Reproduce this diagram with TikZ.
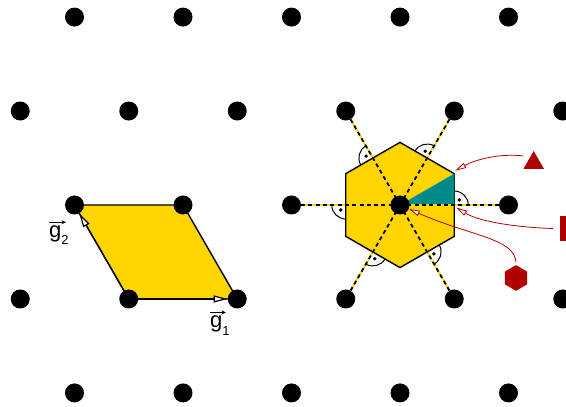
\documentclass[tikz,border=0pt]{standalone}
\usepackage{fontspec}
\setmainfont{Liberation Sans}
\usetikzlibrary{shapes.geometric,arrows.meta}
\pgfdeclarelayer{bg}
\pgfsetlayers{bg,main}
\definecolor{cellgold}{RGB}{255,213,0}
\definecolor{wedgeteal}{RGB}{0,139,139}
\definecolor{calloutred}{RGB}{178,0,0}
\newcommand{\gsub}[1]{g\raisebox{-0.32em}{\fontsize{13}{13}\selectfont#1}}
\begin{document}
\begin{tikzpicture}[x=1pt,y=1pt,
  dot/.style={circle,fill=black,inner sep=0pt,minimum size=19pt},
  cellfill/.style={fill=cellgold,draw=black,line width=1.4pt,line join=round},
  garrow/.style={draw=black,line width=1.2pt,-{Triangle[length=14pt,width=7pt,fill=white]}},
  yline/.style={draw=cellgold,line width=1.8pt},
  bdash/.style={draw=black,line width=1.8pt,dash pattern=on 4pt off 3.3pt},
  rmark/.style={draw=black,line width=1pt},
  vecover/.style={draw=black,line width=0.9pt,-{Stealth[length=4.5pt,width=4pt]}},
  redarrow/.style={draw=calloutred,line width=0.8pt,-{Triangle[length=11pt,width=5.5pt,fill=white]}},
  redtri/.style={regular polygon,regular polygon sides=3,fill=calloutred,inner sep=0pt,minimum size=23.9pt},
  redsq/.style={rectangle,fill=calloutred,inner sep=0pt,minimum width=25pt,minimum height=25pt},
  redhex/.style={regular polygon,regular polygon sides=6,rotate=30,fill=calloutred,inner sep=0pt,minimum size=25.6pt},
  lab/.style={font=\fontsize{22}{26}\selectfont,inner sep=0pt}]
\useasboundingbox (0,0) rectangle (566,407);
% lattice
\foreach \i in {0,...,4} {
  \node[dot] (A\i) at (74.5+108.5*\i, 389.93) {};
  \node[dot] (C\i) at (74.5+108.5*\i, 202) {};
  \node[dot] (E\i) at (74.5+108.5*\i, 14.06) {};
}
\foreach \i in {0,...,5} {
  \node[dot] (B\i) at (20.25+108.5*\i, 295.97) {};
  \node[dot] (D\i) at (20.25+108.5*\i, 108.03) {};
}
\begin{scope}[shift={(C3.center)}]
  \foreach \a in {30,90,150,210,270,330} { \coordinate (v\a) at (\a:62.64); }
  \coordinate (m0) at (0:54.25);
\end{scope}
\begin{pgfonlayer}{bg}
  % unit cell
  \draw[cellfill] (C0.center) -- (C1.center) -- (D2.center) -- (D1.center) -- cycle;
  \draw[garrow] (D1.center) -- (D2);
  \draw[garrow] (D1.center) -- (C0);
  % Wigner-Seitz cell
  \fill[cellgold] (v30) -- (v90) -- (v150) -- (v210) -- (v270) -- (v330) -- cycle;
  \draw[black,line width=1.4pt,line join=round] (v30) -- (v90) -- (v150) -- (v210) -- (v270) -- (v330) -- cycle;
  \fill[wedgeteal] (C3.center) -- (v30) -- (m0) -- cycle;
  \foreach \n in {C4,B4,B3,C2,D3,D4} {
    \draw[yline] (C3.center) -- (\n.center);
    \draw[bdash] (C3.center) -- (\n.center);
  }
  \begin{scope}[shift={(C3.center)}]
    \foreach \t in {0,60,...,300} {
      \draw[rmark] (\t:68.25) arc[start angle=\t, end angle=\t+90, radius=14];
      \fill[black] (\t:54.25) ++(\t+45:7) circle[radius=1.9];
    }
  \end{scope}
\end{pgfonlayer}
% labels
\node[lab,anchor=base west] (lg1) at (210,79) {\gsub{1}};
\node[lab,anchor=base west] (lg2) at (49,169.3) {\gsub{2}};
\draw[vecover] ([yshift=3.5pt]lg1.north west) -- ++(16,0);
\draw[vecover] ([yshift=3.5pt]lg2.north west) -- ++(17,0);
% callouts
\node[redtri] (tri) at (533.7,244) {};
\node[redsq] (sq) at (572.5,178.5) {};
\node[redhex] (hexr) at (516,129) {};
\coordinate (triS) at ([shift={(-10.4,7)}]tri.center);
\coordinate (sqS) at ([xshift=-7pt]sq.west);
\coordinate (hexS) at ([yshift=16pt]hexr.center);
\coordinate (tipV) at ([shift={(1,3)}]v30);
\coordinate (tipM) at ([shift={(2,-2.5)}]m0);
\draw[redarrow] (triS) .. controls +(-23,3) and +(20,11) .. (tipV);
\draw[redarrow] (sqS) .. controls +(-33,1) and +(24,-14.7) .. (tipM);
\draw[redarrow] (hexS) .. controls +(-2,24) and +(70,-31) .. (C3);
\end{tikzpicture}
\end{document}
